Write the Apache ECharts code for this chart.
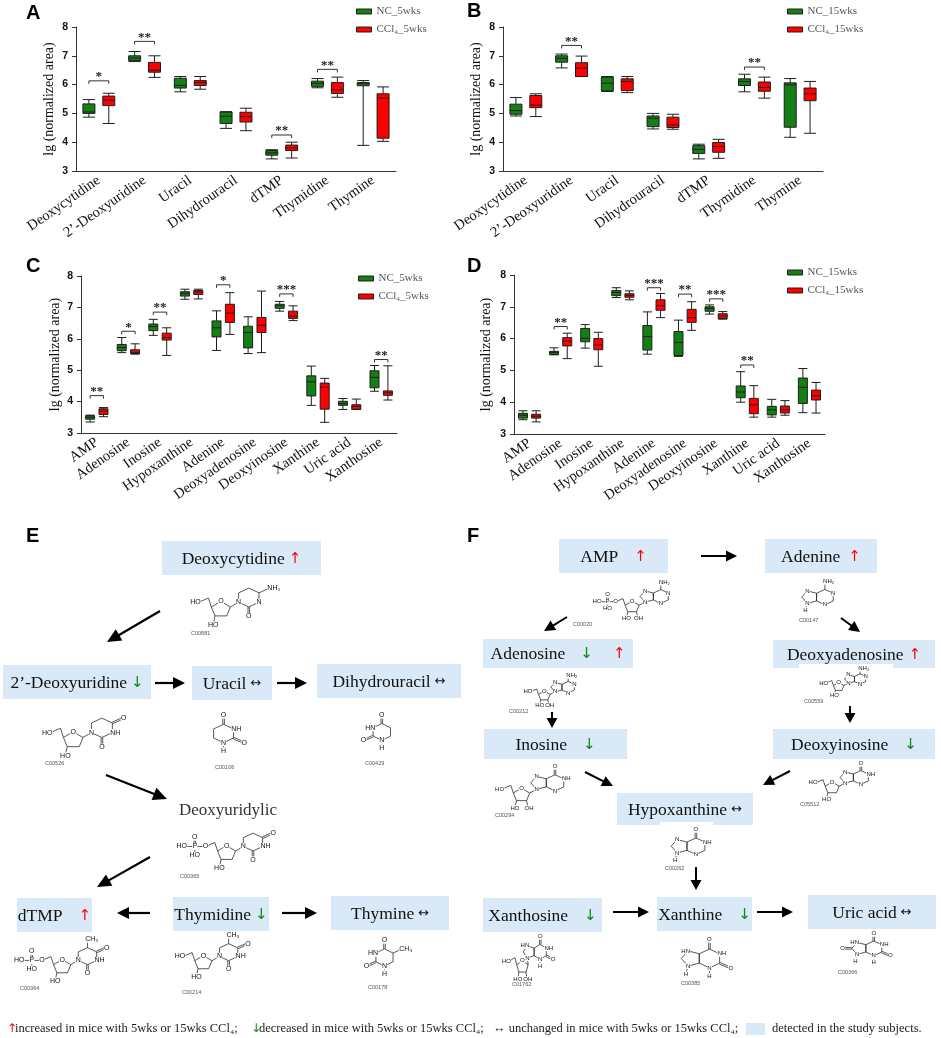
<!DOCTYPE html>
<html><head><meta charset="utf-8">
<script src="https://cdn.jsdelivr.net/npm/echarts@6/dist/echarts.min.js"></script>
<style>html,body{margin:0;padding:0;background:#fff}#c{width:941px;height:1038px}</style>
</head><body><div id="c"></div>
<script>
// ---------------- DATA ----------------
const catsAB = ['Deoxycytidine','2\u2019-Deoxyuridine','Uracil','Dihydrouracil','dTMP','Thymidine','Thymine'];
const catsCD = ['AMP','Adenosine','Inosine','Hypoxanthine','Adenine','Deoxyadenosine','Deoxyinosine','Xanthine','Uric acid','Xanthosine'];
// box values: [min, Q1, median, Q3, max]
const A_nc = [[4.87,5.0,5.05,5.33,5.48],[6.8,6.83,6.92,7.0,7.15],[5.75,5.88,5.97,6.22,6.28],[4.48,4.65,4.90,5.05,5.06],[3.42,3.55,3.63,3.71,3.74],[5.89,5.94,6.05,6.12,6.21],[3.89,5.96,6.03,6.07,6.14]];
const A_ccl = [[4.65,5.27,5.46,5.60,5.70],[6.25,6.43,6.50,6.77,7.0],[5.84,5.97,6.07,6.14,6.28],[4.40,4.70,4.89,5.04,5.18],[3.45,3.71,3.80,3.90,4.0],[5.56,5.69,5.82,6.07,6.26],[4.03,4.14,5.53,5.68,5.92]];
const A_sig = [[0,6.13,1],[1,7.5,2],[4,4.25,2],[5,6.53,2]];
const B_nc = [[4.91,4.97,5.10,5.32,5.55],[6.58,6.78,6.91,7.0,7.06],[5.76,5.78,6.05,6.26,6.28],[4.46,4.54,4.83,4.91,5.0],[3.42,3.61,3.75,3.88,3.93],[5.75,5.97,6.11,6.20,6.36],[4.17,4.52,5.99,6.06,6.21]];
const B_ccl = [[4.89,5.20,5.29,5.62,5.68],[6.28,6.28,6.57,6.76,6.99],[5.72,5.79,6.11,6.20,6.28],[4.45,4.51,4.60,4.87,4.97],[3.44,3.65,3.85,3.99,4.10],[5.53,5.77,5.90,6.09,6.26],[4.31,5.44,5.68,5.88,6.11]];
const B_sig = [[1,7.36,2],[5,6.61,2]];
const C_nc = [[3.35,3.44,3.50,3.55,3.57],[5.56,5.62,5.72,5.82,6.04],[6.11,6.26,6.39,6.47,6.62],[7.26,7.36,7.44,7.50,7.58],[5.63,6.06,6.35,6.57,6.89],[5.53,5.71,6.20,6.40,6.70],[6.88,6.97,7.05,7.10,7.19],[3.88,4.18,4.63,4.82,5.13],[3.75,3.88,3.94,4.01,4.10],[4.33,4.44,4.77,4.98,5.15]];
const C_ccl = [[3.52,3.59,3.70,3.77,3.81],[5.51,5.53,5.57,5.65,5.84],[5.47,5.96,6.04,6.18,6.35],[7.27,7.41,7.49,7.54,7.58],[6.14,6.52,6.82,7.10,7.47],[5.56,6.20,6.43,6.68,7.52],[6.58,6.65,6.72,6.88,7.05],[3.34,3.76,4.46,4.59,4.74],[3.75,3.75,3.85,3.90,4.08],[4.05,4.20,4.28,4.34,5.14]];
const C_sig = [[0,4.19,2],[1,6.24,1],[2,6.85,2],[4,7.72,1],[6,7.43,3],[9,5.34,2]];
const D_nc = [[3.45,3.50,3.59,3.65,3.73],[5.49,5.50,5.56,5.60,5.71],[5.70,5.90,6.01,6.32,6.44],[7.29,7.35,7.45,7.51,7.60],[5.51,5.64,6.06,6.41,6.84],[5.44,5.47,5.88,6.22,6.58],[6.77,6.86,6.95,7.0,7.06],[4.0,4.14,4.32,4.51,4.96],[3.53,3.60,3.76,3.87,4.09],[3.67,3.96,4.47,4.76,5.06]];
const D_ccl = [[3.38,3.50,3.56,3.62,3.73],[5.37,5.77,5.92,6.03,6.17],[5.13,5.65,5.80,6.0,6.20],[7.22,7.30,7.36,7.41,7.50],[6.66,6.89,7.03,7.22,7.42],[6.26,6.51,6.66,6.92,7.16],[6.61,6.63,6.71,6.78,6.85],[3.53,3.64,3.92,4.12,4.52],[3.59,3.66,3.76,3.88,4.05],[3.66,4.07,4.20,4.38,4.62]];
const D_sig = [[1,6.38,2],[4,7.60,3],[5,7.40,2],[6,7.25,3],[7,5.17,2]];
const names5 = ['NC_5wks','CCl\u2084_5wks'];
const names15 = ['NC_15wks','CCl\u2084_15wks'];
const yTicks = [3,4,5,6,7,8];
const yName = 'lg (normalized area)';
// pathway diagram content
const namesE = ['Deoxycytidine','2\u2019-Deoxyuridine','Uracil','Dihydrouracil','dTMP','Thymidine','Thymine'];
const trendE = ['up','down','same','same','up','down','same'];
const namesF = ['AMP','Adenine','Adenosine','Deoxyadenosine','Inosine','Deoxyinosine','Hypoxanthine','Xanthosine','Xanthine','Uric acid'];
const trendF = ['up','up','downup','up','down','down','same','down','down','same'];
const keggE = ['C00881','C00526','C00106','C00429','C00365','C00364','C00214','C00178'];
const keggF = ['C00020','C00147','C00212','C00559','C00294','C05512','C00262','C01762','C00385','C00366'];

// ---------------- STYLE / LAYOUT ----------------
const GREEN = '#148014', RED = '#ff0000', EDGE = '#1e1e1e', BLUE = '#d9e9f7';
const SERIF = 'Liberation Serif';
const panels = [
  {grid:{left:76,top:27,width:320,height:144}, cats:catsAB, nc:A_nc, ccl:A_ccl, sig:A_sig, names:names5, leg:{left:351,top:1}, bw:12, nameGap:20},
  {grid:{left:503,top:27,width:320,height:144}, cats:catsAB, nc:B_nc, ccl:B_ccl, sig:B_sig, names:names15, leg:{left:782,top:1}, bw:12, nameGap:20},
  {grid:{left:81,top:276,width:316,height:157}, cats:catsCD, nc:C_nc, ccl:C_ccl, sig:C_sig, names:names5, leg:{left:353,top:268}, bw:9, nameGap:19},
  {grid:{left:514,top:275,width:311,height:159}, cats:catsCD, nc:D_nc, ccl:D_ccl, sig:D_sig, names:names15, leg:{left:782,top:262}, bw:9, nameGap:21}
];

function sigSeries(idx, data){
  return {type:'custom', xAxisIndex:idx, yAxisIndex:idx, data:data, silent:true, z:10, animation:false,
    encode:{x:0,y:1},
    renderItem:function(params, api){
      const pt = api.coord([api.value(0), api.value(1)]);
      const bw = api.size([1,0])[0];
      const off = (bw*0.8-2)*0.2875;
      const x1 = pt[0]-off, x2 = pt[0]+off, y = pt[1];
      const n = api.value(2);
      return {type:'group', children:[
        {type:'polyline', shape:{points:[[x1,y+3],[x1,y],[x2,y],[x2,y+3]]}, style:{stroke:'#333', lineWidth:1, fill:null}},
        {type:'text', x:pt[0], y:y-4, style:{text:'*'.repeat(n), align:'center', verticalAlign:'middle', fontSize:13, fontWeight:'bold', fontFamily:SERIF, fill:'#222'}}
      ]};
    }};
}

const grids=[], xAxes=[], yAxes=[], series=[], legends=[];
panels.forEach((p,i)=>{
  grids.push(p.grid);
  xAxes.push({type:'category', gridIndex:i, data:p.cats, boundaryGap:true,
    axisLine:{lineStyle:{color:'#333',width:1}}, axisTick:{alignWithLabel:true,length:4,lineStyle:{color:'#333'}},
    axisLabel:{rotate:35, interval:0, margin:8, fontFamily:SERIF, fontSize:14.5, color:'#111'}});
  yAxes.push({type:'value', gridIndex:i, min:yTicks[0], max:yTicks[yTicks.length-1], interval:1,
    axisLine:{show:true,lineStyle:{color:'#333',width:1}}, axisTick:{show:true,length:4,lineStyle:{color:'#333'}},
    splitLine:{show:false}, axisLabel:{margin:8, fontFamily:'Liberation Sans', fontWeight:'bold', fontSize:10.5, color:'#111'},
    name:yName, nameLocation:'middle', nameGap:p.nameGap, nameTextStyle:{fontFamily:SERIF, fontSize:14, color:'#111'}});
  series.push({type:'boxplot', name:p.names[0], xAxisIndex:i, yAxisIndex:i, data:p.nc, boxWidth:[p.bw,p.bw],
    itemStyle:{color:GREEN,borderColor:EDGE,borderWidth:1}, emphasis:{disabled:true}, animation:false});
  series.push({type:'boxplot', name:p.names[1], xAxisIndex:i, yAxisIndex:i, data:p.ccl, boxWidth:[p.bw,p.bw],
    itemStyle:{color:RED,borderColor:EDGE,borderWidth:1}, emphasis:{disabled:true}, animation:false});
  series.push(sigSeries(i, p.sig));
  legends.push({data:[{name:p.names[0],itemStyle:{color:GREEN,borderColor:EDGE,borderWidth:1}},{name:p.names[1],itemStyle:{color:RED,borderColor:EDGE,borderWidth:1}}],
    orient:'vertical', left:p.leg.left, top:p.leg.top, icon:'rect', itemWidth:15, itemHeight:5, itemGap:7, selectedMode:false,
    textStyle:{fontFamily:SERIF, fontSize:11, color:'#555'}});
});

// ---------------- DIAGRAM HELPERS ----------------
const G = [];
function txt(x,y,t,o){ G.push({type:'text', x:x, y:y, silent:true, z:5, style:Object.assign({text:t, fill:'#111', fontFamily:SERIF, fontSize:17, align:'center', verticalAlign:'middle'}, o||{})}); }
function arrow(a, head, hw, lw){
  const [x1,y1,x2,y2]=a; const dx=x2-x1, dy=y2-y1, L=Math.hypot(dx,dy), ux=dx/L, uy=dy/L;
  const bx=x2-ux*head, by=y2-uy*head, px=-uy*hw/2, py=ux*hw/2;
  G.push({type:'line', silent:true, z:5, shape:{x1:x1,y1:y1,x2:bx+ux,y2:by+uy}, style:{stroke:'#000',lineWidth:lw}});
  G.push({type:'polygon', silent:true, z:5, shape:{points:[[x2,y2],[bx+px,by+py],[bx-px,by-py]]}, style:{fill:'#000'}});
}
const markStyle = {up:{t:'\u2191',c:RED}, down:{t:'\u2193',c:'#0a8a0a'}, same:{t:'\u2194',c:'#111'}};
function node(b, name, trend, gap){
  G.push({type:'rect', silent:true, z:2, shape:{x:b[0],y:b[1],width:b[2],height:b[3]}, style:{fill:BLUE}});
  const rich = {n:{fontFamily:SERIF, fontSize:17.5, fill:'#111'}};
  let s = '{n|'+name+'}';
  if(trend==='downup'){
    rich.m1 = {fontFamily:'DejaVu Sans', fontSize:15, fill:markStyle.down.c, padding:[0,0,0,gap]};
    rich.m2 = {fontFamily:'DejaVu Sans', fontSize:15, fill:markStyle.up.c, padding:[0,0,0,20]};
    s += '{m1|'+markStyle.down.t+'}{m2|'+markStyle.up.t+'}';
  } else {
    const ms = markStyle[trend];
    rich.m = {fontFamily:'DejaVu Sans', fontSize: trend==='same'?13:15, fill:ms.c, padding:[0,0,0,gap]};
    s += '{m|'+ms.t+'}';
  }
  G.push({type:'text', silent:true, z:5, x:b[0]+b[2]/2, y:b[1]+b[3]/2+1, style:{text:s, rich:rich, align:'center', verticalAlign:'middle'}});
}

// ---- molecule drawing (decorative skeletal structures) ----
const S3=0.866;
const add=(p,dx,dy)=>[p[0]+dx,p[1]+dy];
function hexAt(c){const x=c[0],y=c[1];return [[x,y-1],[x+S3,y-.5],[x+S3,y+.5],[x,y+1],[x-S3,y+.5],[x-S3,y-.5]];}
function pentAt(c){const x=c[0],y=c[1];return [[x-S3,y-.5],[x-S3,y+.5],[x-1.817,y+.809],[x-2.405,y],[x-1.817,y-.809]];}
function sugAt(c){const x=c[0],y=c[1];return [[x,y-.851],[x+.809,y-.263],[x+.5,y+.688],[x-.5,y+.688],[x-.809,y-.263]];}
function newMol(){return {polys:[],lines:[],labels:[]};}
function lab(m,p,t,a){m.labels.push([p,t,a||'c']);}
function ln(m,a,b,d){m.lines.push([a,b,d?1:0]);}
function addSugar(m,c,ribose,phos){
  const s=sugAt(c); m.polys.push(s); lab(m,s[0],'O');
  const c5=add(s[4],-0.25,-0.95), o5=add(c5,-0.85,0.45);
  ln(m,s[4],c5); ln(m,c5,o5);
  if(phos){
    lab(m,o5,'O'); const P=add(o5,-0.95,0);
    ln(m,o5,P); ln(m,P,add(P,0,-0.9),1); ln(m,P,add(P,-0.8,0)); ln(m,P,add(P,0,0.8));
    lab(m,P,'P'); lab(m,add(P,0,-1.05),'O'); lab(m,add(P,-0.9,0),'HO','r'); lab(m,add(P,0,1.0),'HO');
  } else lab(m,o5,'HO','r');
  const o3=add(s[3],-0.15,0.85); ln(m,s[3],o3); lab(m,add(o3,0,0.1),'HO');
  if(ribose){ const o2=add(s[2],0.15,0.85); ln(m,s[2],o2); lab(m,add(o2,0.1,0.1),'OH'); }
  return s[1];
}
function addPyrNuc(m,c1,kind){
  const n1=add(c1,0.7,-0.5), hc=add(n1,S3,-0.5), h=hexAt(hc);
  m.polys.push(h); ln(m,c1,n1); lab(m,n1,'N');
  ln(m,h[3],add(h[3],0,0.85),1); lab(m,add(h[3],0,1.0),'O');
  if(kind==='C'){ lab(m,h[2],'N'); ln(m,h[1],add(h[1],0.8,-0.45)); lab(m,add(h[1],0.9,-0.5),'NH\u2082','l'); }
  else {
    lab(m,h[2],'NH','l'); ln(m,h[1],add(h[1],0.8,-0.45),1); lab(m,add(h[1],0.95,-0.5),'O');
    if(kind==='T'){ ln(m,h[0],add(h[0],0,-0.85)); lab(m,add(h[0],0,-1.0),'CH\u2083','l'); }
  }
}
function pyrBase(kind){
  const m=newMol(), h=hexAt([0,0]); m.polys.push(h);
  ln(m,h[0],[0,-1.85],1); lab(m,[0,-2.0],'O');
  ln(m,h[3],[0,1.75]); lab(m,h[3],'N'); lab(m,[0,1.9],'H');
  if(kind==='U'){ lab(m,h[1],'NH','l'); ln(m,h[2],add(h[2],0.8,0.45),1); lab(m,add(h[2],0.95,0.5),'O'); }
  else {
    lab(m,h[5],'HN','r'); ln(m,h[4],add(h[4],-0.8,0.45),1); lab(m,add(h[4],-0.95,0.5),'O');
    if(kind==='T'){ ln(m,h[1],add(h[1],0.8,-0.45)); lab(m,add(h[1],0.85,-0.5),'CH\u2083','l'); }
  }
  return m;
}
function purRing(m,hc,kind,nuc){
  const h=hexAt(hc), p=pentAt(hc); m.polys.push(h,p);
  const xlike = (kind==='X'||kind==='UA');
  lab(m,p[4], xlike?'HN':'N', xlike?'r':'c');
  if(nuc) lab(m,p[2],'N'); else { ln(m,p[2],add(p[2],-0.2,0.75)); lab(m,p[2],'N'); lab(m,add(p[2],-0.2,0.9),'H'); }
  if(kind==='A'){ lab(m,h[1],'N'); lab(m,h[3],'N'); ln(m,h[0],add(h[0],0,-0.85)); lab(m,add(h[0],0,-1.0),'NH\u2082','l'); }
  else {
    ln(m,h[0],add(h[0],0,-0.85),1); lab(m,add(h[0],0,-1.0),'O'); lab(m,h[1],'NH','l');
    if(kind==='I'){ lab(m,h[3],'N'); }
    else {
      ln(m,h[2],add(h[2],0.8,0.45),1); lab(m,add(h[2],0.95,0.5),'O');
      ln(m,h[3],add(h[3],0,0.75)); lab(m,h[3],'N'); lab(m,add(h[3],0,0.9),'H');
      if(kind==='UA'){ ln(m,p[3],add(p[3],-0.85,0),1); lab(m,add(p[3],-1.0,0),'O'); }
    }
  }
  return {h:h,p:p};
}
function pyrNucleoside(kind,ribose,phos){ const m=newMol(); const c1=addSugar(m,[0,0],ribose,phos); addPyrNuc(m,c1,kind); return m; }
function purNucleoside(kind,ribose,phos){ const m=newMol(); const c1=addSugar(m,[0,0],ribose,phos); const n9=add(c1,0.7,-0.45); ln(m,c1,n9); purRing(m,add(n9,1.817,-0.809),kind,true); return m; }
function purBase(kind){ const m=newMol(); purRing(m,[0,0],kind,false); return m; }
function xanthosine(){ const m=newMol(); const r=purRing(m,[0,0],'X',true); const c1=add(r.p[2],0.1,0.9); ln(m,r.p[2],c1); addSugar(m,add(c1,-0.809,0.263),true,false); return m; }

function drawMol(m, box, fs, id, idPos){
  const pts=[]; m.polys.forEach(p=>pts.push.apply(pts,p)); m.lines.forEach(l=>{pts.push(l[0],l[1]);}); m.labels.forEach(l=>pts.push(l[0]));
  const xs=pts.map(p=>p[0]), ys=pts.map(p=>p[1]);
  const minx=Math.min.apply(null,xs), maxx=Math.max.apply(null,xs), miny=Math.min.apply(null,ys), maxy=Math.max.apply(null,ys);
  const bx=box[0]+fs*0.5, by=box[1]+fs*0.45, bw=box[2]-fs*1.0, bh=box[3]-fs*0.9;
  const s0=Math.min(bw/(maxx-minx), bh/(maxy-miny));
  const sx=Math.min(bw/(maxx-minx), s0*1.25), sy=Math.min(bh/(maxy-miny), s0*1.25);
  const ox=bx+(bw-(maxx-minx)*sx)/2-minx*sx, oy=by+(bh-(maxy-miny)*sy)/2-miny*sy;
  const P=p=>[ox+p[0]*sx, oy+p[1]*sy];
  const st={stroke:'#222', lineWidth:0.75, fill:null};
  m.polys.forEach(p=>G.push({type:'polygon', silent:true, z:3, shape:{points:p.map(P)}, style:st}));
  m.lines.forEach(l=>{
    const a=P(l[0]), b=P(l[1]);
    if(l[2]){ const dx=b[0]-a[0], dy=b[1]-a[1], L=Math.hypot(dx,dy), nx=-dy/L*0.8, ny=dx/L*0.8;
      G.push({type:'line', silent:true, z:3, shape:{x1:a[0]+nx,y1:a[1]+ny,x2:b[0]+nx,y2:b[1]+ny}, style:st});
      G.push({type:'line', silent:true, z:3, shape:{x1:a[0]-nx,y1:a[1]-ny,x2:b[0]-nx,y2:b[1]-ny}, style:st});
    } else G.push({type:'line', silent:true, z:3, shape:{x1:a[0],y1:a[1],x2:b[0],y2:b[1]}, style:st});
  });
  m.labels.forEach(l=>{
    const q=P(l[0]); let x=q[0], al='center';
    if(l[2]==='l'){ x-=fs*0.36; al='left'; } else if(l[2]==='r'){ x+=fs*0.36; al='right'; }
    G.push({type:'text', silent:true, z:4, x:x, y:q[1], style:{text:l[1], fill:'#111', fontFamily:'Liberation Sans', fontSize:fs, align:al, verticalAlign:'middle', backgroundColor:'#fff', padding:[0,0.3]}});
  });
  G.push({type:'text', silent:true, z:4, x:idPos[0], y:idPos[1], style:{text:id, fill:'#555', fontFamily:'Liberation Sans', fontSize:5.5, align:'left', verticalAlign:'middle'}});
}

// panel letters
[['A',26,13],['B',467,11],['C',26,266],['D',467,266],['E',26,536],['F',467,536]].forEach(l=>{
  txt(l[1],l[2],l[0],{fontFamily:'Liberation Sans', fontWeight:'bold', fontSize:20, align:'left', fill:'#000'});
});

// ---- panel E ----
const boxE = [[162,541,159,34],[3,665,148,34],[192,666,80,34],[317,664,144,34],[17,898,75,34],[173,897,96,34],[331,896,118,34]];
const gapE = [4,4,4,4,16,4,4];
namesE.forEach((n,i)=>node(boxE[i], n, trendE[i], gapE[i]));
txt(228,811,'Deoxyuridylic',{fill:'#333'});
[[160,611,107,642],[106,775,167,799],[150,857,97,887]].forEach(a=>arrow(a,14,13,2.2));
[[155,683,185,683],[277,683,307,683],[150,913,117,913],[282,913,317,913]].forEach(a=>arrow(a,12,12,2.2));
const molE = [
  [pyrNucleoside('C',false,false),[190,585,88,43],7,[191,633]],
  [pyrNucleoside('U',false,false),[45,715,84,44],7,[45,763]],
  [pyrBase('U'),[210,712,38,42],7,[215,767]],
  [pyrBase('D'),[360,712,34,39],7,[365,763]],
  [pyrNucleoside('U',false,true),[176,830,106,41],7,[180,876]],
  [pyrNucleoside('T',false,true),[18,936,93,48],7,[20,988]],
  [pyrNucleoside('T',false,false),[178,932,75,48],7,[182,992]],
  [pyrBase('T'),[363,937,42,40],7,[368,987]]
];
molE.forEach((d,i)=>drawMol(d[0],d[1],d[2],keggE[i],d[3]));

// ---- panel F ----
const boxF = [[559,539,109,34],[765,539,112,34],[483,639,150,29],[773,640,162,28],[484,729,143,30],[773,729,162,30],[617,793,136,32],[483,898,119,34],[657,897,95,34],[808,895,128,34]];
const gapF = [16,8,15,5,16,16,4,16,16,4];
namesF.forEach((n,i)=>node(boxF[i], n, trendF[i], gapF[i]));
G.push({type:'rect', silent:true, z:2, shape:{x:799,y:664,width:94,height:4}, style:{fill:'#fff'}});
G.push({type:'rect', silent:true, z:2, shape:{x:660,y:822,width:53,height:3}, style:{fill:'#fff'}});
[[701,556,737,556],[567,617,544,631],[841,618,860,632],[585,772,613,786],[790,771,763,785],[613,912,649,912],[757,912,793,912]].forEach(a=>arrow(a,11,11,2));
[[552,712,552,728],[850,706,850,723],[696,867,696,890]].forEach(a=>arrow(a,10,11,2));
const molF = [
  [purNucleoside('A',true,true),[572,580,124,41],6,[573,624]],
  [purBase('A'),[796,579,43,34],6,[799,620]],
  [purNucleoside('A',true,false),[505,673,95,35],6,[509,711]],
  [purNucleoside('A',false,false),[801,666,90,32],6,[804,701]],
  [purNucleoside('I',true,false),[493,764,80,47],6,[495,815]],
  [purNucleoside('I',false,false),[796,761,92,41],6,[800,804]],
  [purBase('I'),[664,827,48,36],6,[665,868]],
  [xanthosine(),[506,934,50,48],6,[512,984]],
  [purBase('X'),[678,937,56,42],6,[681,983]],
  [purBase('UA'),[834,931,65,34],6,[838,972]]
];
molF.forEach((d,i)=>drawMol(d[0],d[1],d[2],keggF[i],d[3]));

// ---- footer key ----
const fst = {fontSize:12.5, align:'left', fill:'#222'};
txt(7,1029,'\u2191',Object.assign({},fst,{fontFamily:'DejaVu Sans',fill:RED,fontSize:12}));
txt(15,1029,'increased in mice with 5wks or 15wks CCl\u2084;',fst);
txt(251,1029,'\u2193',Object.assign({},fst,{fontFamily:'DejaVu Sans',fill:'#0a8a0a',fontSize:12}));
txt(259,1029,'decreased in mice with 5wks or 15wks CCl\u2084;',fst);
txt(493,1029,'\u2194 unchanged in mice with 5wks or 15wks CCl\u2084;',fst);
G.push({type:'rect', silent:true, z:2, shape:{x:746,y:1023,width:19,height:12}, style:{fill:BLUE}});
txt(772,1029,'detected in the study subjects.',fst);

const chart = echarts.init(document.getElementById('c'), null, {renderer:'canvas'});
chart.setOption({
  backgroundColor:'#fff', animation:false,
  grid:grids, xAxis:xAxes, yAxis:yAxes, series:series, legend:legends,
  graphic:{elements:G}
});
</script></body></html>
